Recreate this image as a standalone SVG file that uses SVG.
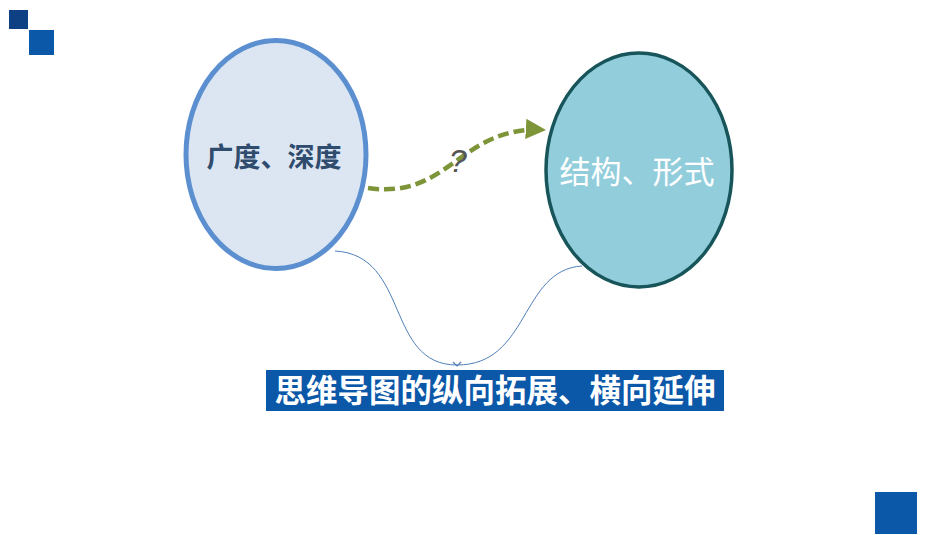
<svg xmlns="http://www.w3.org/2000/svg" width="950" height="535" viewBox="0 0 950 535">
<defs>
<style>
.cjk{font-family:"Noto Sans CJK SC","Microsoft YaHei",sans-serif;text-anchor:middle}
.thin{fill:none;stroke:#4f7fb8;stroke-width:1}
</style>
<marker id="olive" viewBox="0 0 10 10" refX="9" refY="5" markerWidth="4.5" markerHeight="4.5" orient="auto" markerUnits="strokeWidth">
<path d="M0,0 L10,5 L0,10 z" fill="#7d9439"/>
</marker>
</defs>
<rect width="950" height="535" fill="#ffffff"/>
<g id="decor">
<rect x="9" y="10" width="19" height="19" fill="#0e4183"/>
<rect x="29" y="30" width="25" height="25" fill="#0b57a8"/>
<rect x="875" y="492" width="42" height="42" fill="#0b57a8"/>
</g>
<g id="connectors">
<path d="M368,188 C450,200 460,125 544,130" fill="none" stroke="#7d9439" stroke-width="4.5" stroke-dasharray="11,5" marker-end="url(#olive)"/>
<path class="thin" d="M335,251 C410,255 385,365 457,365"/>
<path class="thin" d="M582,266 C520,270 530,365 457,365"/>
<path d="M453,362 L457,366 L461,362" fill="none" stroke="#4f7fb8" stroke-width="1.2"/>
<text x="458" y="172" font-family="Liberation Sans, Arial, sans-serif" font-size="32" font-style="italic" fill="#555555" text-anchor="middle">?</text>
</g>
<g id="node-breadth">
<ellipse cx="276" cy="154.5" rx="90" ry="114" fill="#dce6f2" stroke="#5b8fd0" stroke-width="5"/>
<text class="cjk" x="274" y="167" font-size="27" font-weight="bold" fill="#2f4b6e">广度、深度</text>
</g>
<g id="node-structure">
<ellipse cx="639" cy="170" rx="93" ry="117" fill="#92cddc" stroke="#17555a" stroke-width="3.5"/>
<text class="cjk" x="637" y="183" font-size="31" fill="#ffffff">结构、形式</text>
</g>
<g id="banner">
<rect x="266" y="370" width="458" height="41" fill="#0b57a8"/>
<text class="cjk" x="495" y="402" font-size="31.5" font-weight="bold" fill="#ffffff">思维导图的纵向拓展、横向延伸</text>
</g>
</svg>
